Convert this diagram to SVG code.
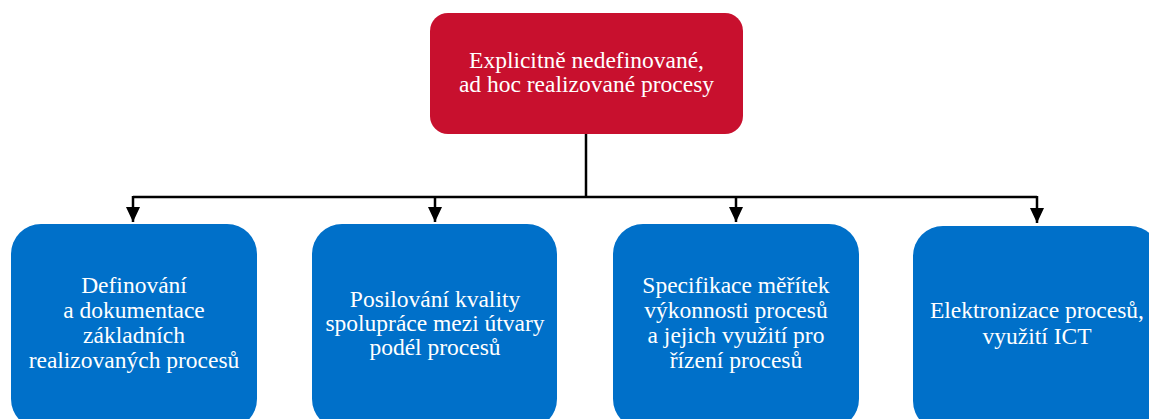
<svg xmlns="http://www.w3.org/2000/svg" width="1149" height="419" viewBox="0 0 1149 419">
<style>
.t{font-family:"Liberation Serif","Times New Roman",serif;fill:#fff;text-anchor:middle;font-size:23.5px}
.top{fill:#C8102E}
.sub{fill:#0070C9}
.c{stroke:#000;stroke-width:2.5;fill:none}
</style>
<defs>
<marker id="ah" markerWidth="15" markerHeight="14" refX="15" refY="7" orient="auto" markerUnits="userSpaceOnUse" viewBox="0 0 15 14">
<path d="M0,0 L15,7 L0,14 z" fill="#000"/>
</marker>
</defs>
<rect width="1149" height="419" fill="#fff"/>
<g id="root">
<rect class="top" x="430" y="13" width="313" height="121" rx="18"/>
<text class="t"><tspan x="586.5" y="68">Explicitně nedefinované,</tspan><tspan x="586.5" y="92">ad hoc realizované procesy</tspan></text>
</g>
<g id="connectors">
<path class="c" d="M586,134 V197"/>
<path class="c" d="M133,197 H1037"/>
<path class="c" d="M133,196 V222" marker-end="url(#ah)"/>
<path class="c" d="M435,196 V222" marker-end="url(#ah)"/>
<path class="c" d="M736,196 V222" marker-end="url(#ah)"/>
<path class="c" d="M1037,196 V223" marker-end="url(#ah)"/>
</g>
<g id="n1">
<rect class="sub" x="11" y="224" width="246" height="205" rx="30"/>
<text class="t"><tspan x="134" y="293">Definování</tspan><tspan x="134" y="318">a dokumentace</tspan><tspan x="134" y="343">základních</tspan><tspan x="134" y="368">realizovaných procesů</tspan></text>
</g>
<g id="n2">
<rect class="sub" x="312" y="224" width="245" height="205" rx="30"/>
<text class="t"><tspan x="435" y="307">Posilování kvality</tspan><tspan x="435" y="331">spolupráce mezi útvary</tspan><tspan x="435" y="355">podél procesů</tspan></text>
</g>
<g id="n3">
<rect class="sub" x="613" y="224" width="246" height="205" rx="30"/>
<text class="t"><tspan x="736" y="293">Specifikace měřítek</tspan><tspan x="736" y="318">výkonnosti procesů</tspan><tspan x="736" y="343">a jejich využití pro</tspan><tspan x="736" y="368">řízení procesů</tspan></text>
</g>
<g id="n4">
<rect class="sub" x="913" y="226" width="247" height="205" rx="30"/>
<text class="t"><tspan x="1037" y="318">Elektronizace procesů,</tspan><tspan x="1037" y="344">využití ICT</tspan></text>
</g>
</svg>
